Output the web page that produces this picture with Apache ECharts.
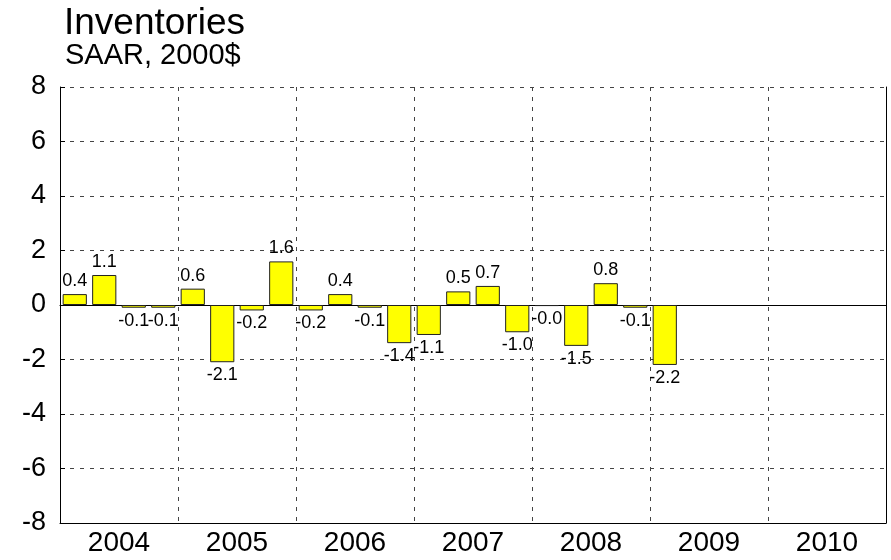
<!DOCTYPE html>
<html><head><meta charset="utf-8">
<script src="https://cdn.jsdelivr.net/npm/echarts@6/dist/echarts.min.js"></script>
<style>html,body{margin:0;padding:0;background:#fff}#c{width:891px;height:560px}</style>
</head><body><div id="c"></div>
<script>
const years = ['2004','2005','2006','2007','2008','2009','2010'];
const quarters = [];
years.forEach(y => ['Q1','Q2','Q3','Q4'].forEach(q => quarters.push(y + q)));
const values = [0.4, 1.1, -0.1, -0.1, 0.6, -2.1, -0.2, 1.6, -0.2, 0.4, -0.1, -1.4, -1.1, 0.5, 0.7, -1.0, -0.04, -1.5, 0.8, -0.1, -2.2];
const yTicks = [-8, -6, -4, -2, 0, 2, 4, 6, 8];

const seriesData = quarters.map((q, i) => i < values.length ? values[i] : '-');
const font = 'Liberation Sans, Arial, sans-serif';
const chart = echarts.init(document.getElementById('c'));
chart.setOption({
  animation: false,
  backgroundColor: '#fff',
  title: [
    {text: 'Inventories', left: 59, top: 0, textStyle: {fontFamily: font, fontSize: 37, fontWeight: 'normal', color: '#000'}},
    {text: 'SAAR, 2000$', left: 60, top: 36, textStyle: {fontFamily: font, fontSize: 29, fontWeight: 'normal', color: '#000'}}
  ],
  grid: {left: 60, right: 5, top: 87, bottom: 37, containLabel: false},
  xAxis: [
    {type: 'category', data: quarters, position: 'bottom',
     axisLine: {show: true, onZero: true, lineStyle: {color: '#000', width: 1}},
     axisTick: {show: false}, axisLabel: {show: false}, splitLine: {show: false}},
    {type: 'category', data: years, position: 'bottom', boundaryGap: true,
     axisLine: {show: true, onZero: false, lineStyle: {color: '#000', width: 1}},
     axisTick: {show: false},
     axisLabel: {show: true, fontFamily: font, fontSize: 28, color: '#000', margin: 6},
     splitLine: {show: true, lineStyle: {color: '#444', type: [4, 6], width: 1}}}
  ],
  yAxis: [
    {type: 'value', min: yTicks[0], max: yTicks[yTicks.length - 1], interval: 2,
     axisLine: {show: true, lineStyle: {color: '#000', width: 1}},
     axisTick: {show: true, length: 5, inside: true, lineStyle: {color: '#000'}},
     axisLabel: {fontFamily: font, fontSize: 27, color: '#000', margin: 14},
     splitLine: {show: true, lineStyle: {color: '#444', type: [4, 6], width: 1}}},
    {type: 'value', min: -8, max: 8, interval: 2, position: 'right',
     axisLine: {show: true, lineStyle: {color: '#000', width: 1}},
     axisTick: {show: false}, axisLabel: {show: false}, splitLine: {show: false}}
  ],
  series: [{
    type: 'bar', xAxisIndex: 0, yAxisIndex: 0, data: seriesData,
    barCategoryGap: '18%',
    itemStyle: {color: '#ffff00', borderColor: '#222', borderWidth: 1},
    label: {show: true, position: 'outside', distance: 4, fontFamily: font, fontSize: 18, color: '#000',
      formatter: p => (p.value < 0 ? '-' + Math.abs(p.value).toFixed(1) : p.value.toFixed(1))},
    labelLayout: {hideOverlap: false}
  }]
});
</script></body></html>
